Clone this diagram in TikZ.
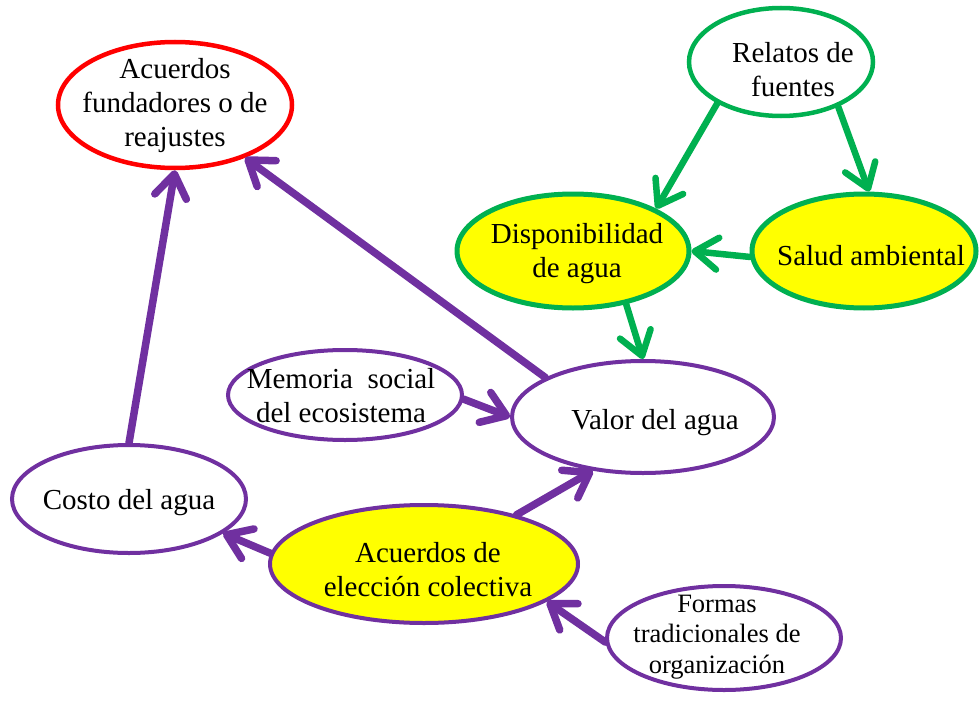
\documentclass[tikz,border=0pt]{standalone}
\usepackage{fontspec}
\setmainfont{Liberation Serif}
\usepackage{tikz}
\usetikzlibrary{shapes.geometric, arrows.meta, positioning, calc}
\definecolor{morado}{RGB}{112, 48, 160}
\definecolor{verde}{RGB}{0, 176, 80}
\definecolor{rojo}{RGB}{255, 0, 0}
\definecolor{amarillo}{RGB}{255, 255, 0}

\begin{document}
\begin{tikzpicture}[x=1pt, y=-1pt,
    font=\fontsize{29}{34}\selectfont,
    elipse/.style={ellipse, inner sep=0pt, line width=4pt},
    txt/.style={align=center, inner sep=0pt},
    flecha/.style={line width=7.5pt, line cap=round,
        -{Straight Barb[round, length=23pt, width=32pt]}}]
    \useasboundingbox (0,0) rectangle (980,701);
    % Elipses
    \node[elipse, draw=rojo, line width=4.5pt, minimum width=234pt, minimum height=126pt,
        label={[txt, yshift=-1pt]center:Acuerdos\\fundadores o de\\reajustes}] (fundadores) at (175,105) {};
    \node[elipse, draw=verde, line width=4.5pt, minimum width=184pt, minimum height=108pt,
        label={[txt, xshift=12pt, yshift=-8pt]center:Relatos de\\fuentes}] (relatos) at (781,62) {};
    \node[elipse, draw=verde, fill=amarillo, line width=5pt, minimum width=232pt, minimum height=114pt,
        label={[txt, xshift=4pt, yshift=-3pt]center:Disponibilidad\\de agua}] (disp) at (573,251) {};
    \node[elipse, draw=verde, fill=amarillo, line width=5pt, minimum width=224pt, minimum height=114pt,
        label={[txt, xshift=7pt, yshift=-5pt]center:Salud ambiental}] (salud) at (864,251) {};
    \node[elipse, draw=morado, minimum width=262pt, minimum height=112pt,
        label={[txt, xshift=12pt, yshift=-6pt]center:Valor del agua}] (valor) at (643,417) {};
    \node[elipse, draw=morado, minimum width=234pt, minimum height=90pt,
        label={[txt, xshift=-4pt, yshift=-1pt]center:Memoria\ \ social\\del ecosistema}] (memoria) at (345,395) {};
    \node[elipse, draw=morado, minimum width=234pt, minimum height=108pt,
        label={[txt, yshift=-4pt]center:Costo del agua}] (costo) at (129,499) {};
    \node[elipse, draw=morado, fill=amarillo, minimum width=308pt, minimum height=118pt,
        label={[txt, xshift=4pt, yshift=-6pt]center:Acuerdos de\\elección colectiva}] (eleccion) at (424,564) {};
    \node[elipse, draw=morado, minimum width=234pt, minimum height=104pt,
        label={[txt, xshift=-7pt, yshift=1pt, font=\fontsize{26.5}{30.5}\selectfont]center:Formas\\tradicionales de\\organización}] (formas) at (724,638) {};
    % Flechas moradas
    \draw[flecha, morado] (costo.90) -- (fundadores.south);
    \draw[flecha, morado] (valor.158) -- (fundadores.-37);
    \draw[flecha, morado] (memoria.-2) -- (valor.west);
    \draw[flecha, morado] (eleccion.28) -- (valor.-133);
    \draw[flecha, morado] (eleccion.176) -- (costo.-20);
    \draw[flecha, morado] (formas.182) -- (eleccion.-17);
    % Flechas verdes
    \draw[flecha, verde, line width=6.5pt] (relatos.-147) -- (disp.27);
    \draw[flecha, verde, line width=6.5pt] (relatos.-38) -- (salud.85);
    \draw[flecha, verde, line width=6.5pt] (salud.183) -- (disp.east);
    \draw[flecha, verde, line width=6.5pt] (disp.-45) -- (valor.north);
\end{tikzpicture}
\end{document}
